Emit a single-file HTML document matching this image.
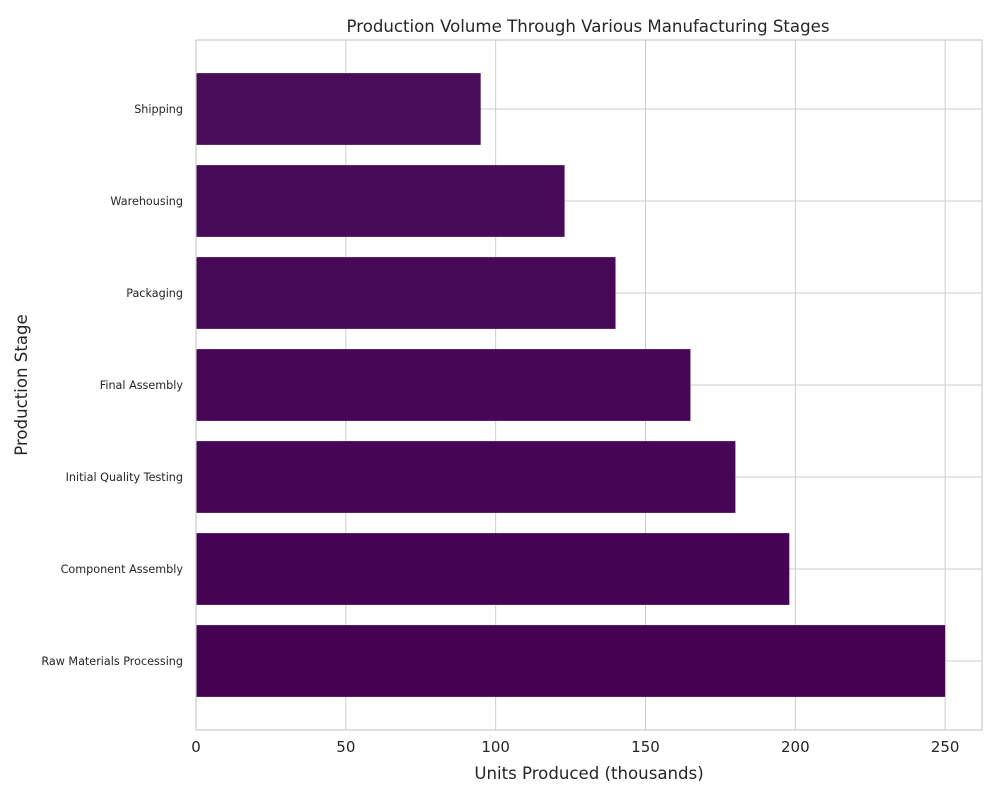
<!DOCTYPE html>
<html><head><meta charset="utf-8"><style>
body{margin:0;background:#fff;font-family:"Liberation Sans","DejaVu Sans",sans-serif;}
svg text{font-family:"DejaVu Sans","Liberation Sans",sans-serif;fill:#262626;}
</style></head><body>
<svg id="chart" width="1000" height="800"></svg>
<script>
const categories=["Raw Materials Processing","Component Assembly","Initial Quality Testing","Final Assembly","Packaging","Warehousing","Shipping"];
const values=[250,198,180,165,140,123,95];
const barColors=["#440154","#450356","#460557","#470657","#470858","#480a59","#490c5a"];
const xTicks=[0,50,100,150,200,250];
const svg=document.getElementById('chart');
const NS="http://www.w3.org/2000/svg";
const L=196,R=982,T=40,B=730,xMax=262.3,yMin=-0.75,yMax=6.75;
const x=v=>L+(v/xMax)*(R-L);
const y=i=>B-(i-yMin)/(yMax-yMin)*(B-T);
const step=(B-T)/(yMax-yMin);
function el(t,a,txt){const e=document.createElementNS(NS,t);for(const k in a)e.setAttribute(k,a[k]);if(txt!=null)e.textContent=txt;svg.appendChild(e);return e;}
xTicks.forEach(v=>{
 const g=el('line',{x1:x(v),x2:x(v),y1:T,y2:B,stroke:'#cccccc','stroke-width':1});
 
 
 const t=el('text',{x:x(v),y:B+22,'text-anchor':'middle','font-size':15},v);
 
 
});
categories.forEach((c,i)=>{
 const g=el('line',{x1:L,x2:R,y1:y(i),y2:y(i),stroke:'#cccccc','stroke-width':1});
 
 
});
categories.forEach((c,i)=>{
 const h=step*0.78;
 const r=el('rect',{x:x(0),y:y(i)-h/2,width:x(values[i])-x(0),height:h,fill:barColors[i]});
 
 
 const t=el('text',{x:L-13,y:y(i)+4,'text-anchor':'end','font-size':11.2},c);
 
 
});
const fr=el('rect',{x:L,y:T,width:R-L,height:B-T,fill:'none',stroke:'#cccccc','stroke-width':1.2});


const ti=el('text',{x:(L+R)/2-1,y:32,'text-anchor':'middle','font-size':16.6},'Production Volume Through Various Manufacturing Stages');


const xl=el('text',{x:(L+R)/2,y:779,'text-anchor':'middle','font-size':16.6},'Units Produced (thousands)');


const yl=el('text',{x:27,y:(T+B)/2,'text-anchor':'middle','font-size':16.6,transform:`rotate(-90 27 ${(T+B)/2})`},'Production Stage');


</script>
</body></html>
